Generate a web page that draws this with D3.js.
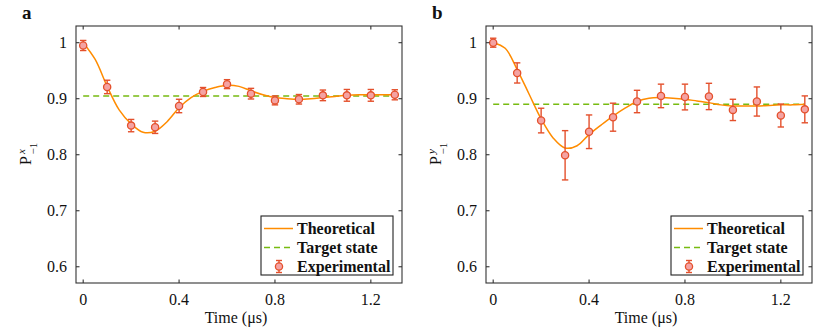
<!DOCTYPE html>
<html>
<head>
<meta charset="utf-8">
<script src="https://cdn.jsdelivr.net/npm/d3@7"></script>
<style>
  body { margin: 0; background: #fff; }
</style>
</head>
<body>
<div id="chart"></div>
<script>
// measurement times (us)
var times = [0, 0.1, 0.2, 0.3, 0.4, 0.5, 0.6, 0.7, 0.8, 0.9, 1.0, 1.1, 1.2, 1.3];

// panel a: P^x_-1
var expA = [0.995, 0.921, 0.852, 0.849, 0.887, 0.912, 0.926, 0.909, 0.897, 0.899, 0.906, 0.906, 0.906, 0.907];
var errA = [0.009, 0.012, 0.011, 0.011, 0.012, 0.008, 0.008, 0.0095, 0.008, 0.0085, 0.0095, 0.0105, 0.0105, 0.009];
var targetA = 0.905;

// panel b: P^y_-1
var expB = [1.000, 0.946, 0.861, 0.799, 0.841, 0.867, 0.895, 0.905, 0.903, 0.904, 0.880, 0.895, 0.870, 0.881];
var errB = [0.008, 0.018, 0.022, 0.044, 0.030, 0.025, 0.020, 0.021, 0.023, 0.0235, 0.019, 0.026, 0.0205, 0.024];
var targetB = 0.890;

// theoretical curves, every 0.05 us
var theoryT = [0, 0.05, 0.1, 0.15, 0.2, 0.25, 0.3, 0.35, 0.4, 0.45, 0.5, 0.55, 0.6, 0.65,
               0.7, 0.75, 0.8, 0.85, 0.9, 0.95, 1.0, 1.05, 1.1, 1.15, 1.2, 1.25, 1.3];
var theoryA = [1.000, 0.970, 0.922, 0.880, 0.855, 0.840, 0.842, 0.859, 0.884, 0.902, 0.913, 0.920, 0.924, 0.922,
               0.914, 0.907, 0.902, 0.900, 0.899, 0.900, 0.902, 0.904, 0.906, 0.907, 0.907, 0.907, 0.907];
var theoryB = [1.000, 0.990, 0.952, 0.908, 0.864, 0.830, 0.812, 0.816, 0.836, 0.853, 0.869, 0.883, 0.895, 0.901,
               0.902, 0.901, 0.899, 0.896, 0.893, 0.889, 0.887, 0.887, 0.887, 0.888, 0.889, 0.889, 0.890];

var xTicks = [0, 0.4, 0.8, 1.2];
var yTicks = [0.6, 0.7, 0.8, 0.9, 1];

var W = 831, H = 334;
var FONT = "Liberation Serif";
var svg = d3.select("#chart").append("svg")
    .attr("width", W).attr("height", H);

var orange = "#ff8c00", green = "#77bb11", red = "#e4502c", pink = "#f4a3a3";

// helper: text with the serif font set directly on the element
function addText(sel, x, y, size, str) {
    return sel.append("text").attr("x", x).attr("y", y)
        .attr("font-family", FONT).attr("font-size", size).attr("fill", "#111").text(str);
}

function drawPanel(left, letter, axis, expV, errV, target, theory) {
    var top = 26, right = left + 326, bottom = 283;

    var x = d3.scaleLinear().domain([-0.03, 1.33]).range([left, right]);
    var y = d3.scaleLinear().domain([0.571, 1.0298]).range([bottom, top]);

    var g = svg.append("g");

    // panel letter
    addText(g, left - 54, 19, 19, letter).attr("font-weight", "bold");

    // target state
    g.append("line")
        .attr("x1", x(0)).attr("x2", x(1.3))
        .attr("y1", y(target)).attr("y2", y(target))
        .attr("stroke", green).attr("stroke-width", 1.5)
        .attr("stroke-dasharray", "6,4");

    // theoretical curve
    var line = d3.line()
        .x(function(d, i) { return x(theoryT[i]); })
        .y(function(d) { return y(d); })
        .curve(d3.curveCatmullRom);
    g.append("path").datum(theory)
        .attr("d", line)
        .attr("fill", "none").attr("stroke", orange).attr("stroke-width", 1.5);

    // experimental points with error bars
    var pts = g.selectAll(".pt").data(expV).enter().append("g").attr("class", "pt");
    pts.append("line")
        .attr("x1", function(d, i) { return x(times[i]); })
        .attr("x2", function(d, i) { return x(times[i]); })
        .attr("y1", function(d, i) { return y(d - errV[i]); })
        .attr("y2", function(d, i) { return y(d + errV[i]); })
        .attr("stroke", red).attr("stroke-width", 1.4);
    [-1, 1].forEach(function(s) {
        pts.append("line")
            .attr("x1", function(d, i) { return x(times[i]) - 3.2; })
            .attr("x2", function(d, i) { return x(times[i]) + 3.2; })
            .attr("y1", function(d, i) { return y(d + s * errV[i]); })
            .attr("y2", function(d, i) { return y(d + s * errV[i]); })
            .attr("stroke", red).attr("stroke-width", 1.4);
    });
    pts.append("circle")
        .attr("cx", function(d, i) { return x(times[i]); })
        .attr("cy", function(d) { return y(d); })
        .attr("r", 3.6)
        .attr("fill", pink).attr("stroke", red).attr("stroke-width", 1.3);

    // axes box with inward ticks
    var ax = g.append("g").attr("stroke", "#333").attr("stroke-width", 1.1);
    ax.append("rect").attr("x", left).attr("y", top)
        .attr("width", right - left).attr("height", bottom - top).attr("fill", "none");
    xTicks.forEach(function(t) {
        ax.append("line").attr("x1", x(t)).attr("x2", x(t)).attr("y1", bottom).attr("y2", bottom - 3.5);
        ax.append("line").attr("x1", x(t)).attr("x2", x(t)).attr("y1", top).attr("y2", top + 3.5);
    });
    yTicks.forEach(function(t) {
        ax.append("line").attr("x1", left).attr("x2", left + 3.5).attr("y1", y(t)).attr("y2", y(t));
        ax.append("line").attr("x1", right).attr("x2", right - 3.5).attr("y1", y(t)).attr("y2", y(t));
    });

    // tick labels
    xTicks.forEach(function(t) {
        addText(g, x(t), 305, 16, t).attr("text-anchor", "middle");
    });
    yTicks.forEach(function(t) {
        addText(g, left - 9, y(t) + 5.5, 16, t).attr("text-anchor", "end");
    });

    addText(g, (left + right) / 2 - 3, 323, 16, "Time (\u03bcs)").attr("text-anchor", "middle");

    // y label: P^axis_-1
    var yl = g.append("g").attr("transform", "translate(" + (left - 45) + ",154) rotate(-90)");
    addText(yl, -11, 0, 16, "P");
    addText(yl, 0, -6, 11, axis).attr("font-style", "italic");
    addText(yl, -0.5, 6, 11, "\u22121");

    // legend
    var lx = left + 185, ly = 216;
    var lg = g.append("g");
    lg.append("rect").attr("x", lx).attr("y", ly).attr("width", 132).attr("height", 59)
        .attr("fill", "#fff").attr("stroke", "#222").attr("stroke-width", 1.1);
    var rows = ["Theoretical", "Target state", "Experimental"];
    rows.forEach(function(r, i) {
        var ry = ly + 12.5 + i * 19;
        if (i === 0) {
            lg.append("line").attr("x1", lx + 3).attr("x2", lx + 32).attr("y1", ry).attr("y2", ry)
                .attr("stroke", orange).attr("stroke-width", 1.5);
        } else if (i === 1) {
            lg.append("line").attr("x1", lx + 3).attr("x2", lx + 32).attr("y1", ry).attr("y2", ry)
                .attr("stroke", green).attr("stroke-width", 1.5).attr("stroke-dasharray", "6,4");
        } else {
            var cx = lx + 18;
            lg.append("line").attr("x1", cx).attr("x2", cx).attr("y1", ry - 6).attr("y2", ry + 6)
                .attr("stroke", red).attr("stroke-width", 1.4);
            [-6, 6].forEach(function(o) {
                lg.append("line").attr("x1", cx - 3).attr("x2", cx + 3).attr("y1", ry + o).attr("y2", ry + o)
                    .attr("stroke", red).attr("stroke-width", 1.4);
            });
            lg.append("circle").attr("cx", cx).attr("cy", ry).attr("r", 3.6)
                .attr("fill", pink).attr("stroke", red).attr("stroke-width", 1.3);
        }
        addText(lg, lx + 36, ry + 5.5, 16, r).attr("font-weight", "bold");
    });
}

drawPanel(76, "a", "x", expA, errA, targetA, theoryA);
drawPanel(486, "b", "y", expB, errB, targetB, theoryB);
</script>
</body>
</html>
